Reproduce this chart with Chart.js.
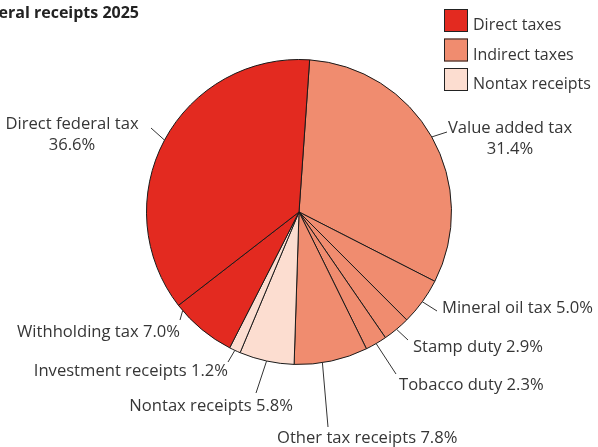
<!DOCTYPE html>
<html>
<head>
<meta charset="utf-8">
<script src="https://cdn.jsdelivr.net/npm/chart.js@4"></script>
<style>
  html, body { margin: 0; padding: 0; background: #fff; }
  canvas { display: block; }
</style>
</head>
<body>
<canvas id="chart" width="598" height="447"></canvas>
<script>
// data, clockwise from the top
const categories = ['Value added tax', 'Mineral oil tax', 'Stamp duty', 'Tobacco duty',
    'Other tax receipts', 'Nontax receipts', 'Investment receipts', 'Withholding tax', 'Direct federal tax'];
const shares = [31.4, 5.0, 2.9, 2.3, 7.8, 5.8, 1.2, 7.0, 36.6];
const groupOf = [1, 1, 1, 1, 1, 2, 2, 0, 0];
const groupNames = ['Direct taxes', 'Indirect taxes', 'Nontax receipts'];
const title = 'Federal receipts 2025';

const groupColors = ['#e32a20', '#f08c6f', '#fcddd0'];
const textColor = '#363636';
const labelFont = '16.6px "Open Sans", sans-serif';
const legendFont = '16px "Open Sans", sans-serif';

// where each slice label goes: point on arc (fraction of the slice), line end, text anchor
const labelLayout = [
    { frac: 0.5, end: [447, 132], tx: 510, ty: 133, align: 'center', split: true },
    { frac: 0.5, end: [437, 311], tx: 442, ty: 313, align: 'left' },
    { frac: 0.5, end: [408, 340], tx: 413, ty: 352, align: 'left' },
    { frac: 0.5, end: [396, 374], tx: 399, ty: 390, align: 'left' },
    { frac: 0.62, end: [328, 427], tx: 277, ty: 443, align: 'left' },
    { frac: 0.5, end: [256, 393], tx: 293, ty: 411, align: 'right' },
    { frac: 0.5, end: [228, 362], tx: 228, ty: 376, align: 'right' },
    { frac: 0.9, end: [180, 320], tx: 180, ty: 337, align: 'right' },
    { frac: 0.5, end: [151, 128], tx: 72, ty: 129, align: 'center', split: true }
];

const annotations = {
    id: 'annotations',
    afterDraw(chart) {
        const ctx = chart.ctx;
        const meta = chart.getDatasetMeta(0);
        ctx.save();

        // title (cut at the left edge like the source)
        ctx.font = 'bold 16px "Open Sans", sans-serif';
        ctx.fillStyle = '#222';
        ctx.textAlign = 'right';
        ctx.textBaseline = 'alphabetic';
        ctx.fillText(title, 139, 18);

        // slice labels with leader lines
        ctx.font = labelFont;
        meta.data.forEach((arc, i) => {
            const p = arc.getProps(['x', 'y', 'startAngle', 'endAngle', 'outerRadius'], true);
            const lay = labelLayout[i];
            const a = p.startAngle + lay.frac * (p.endAngle - p.startAngle);
            const sx = p.x + p.outerRadius * Math.cos(a);
            const sy = p.y + p.outerRadius * Math.sin(a);
            ctx.strokeStyle = '#333';
            ctx.lineWidth = 1;
            ctx.beginPath();
            ctx.moveTo(sx, sy);
            ctx.lineTo(lay.end[0], lay.end[1]);
            ctx.stroke();

            const pct = shares[i].toFixed(1) + '%';
            ctx.fillStyle = textColor;
            ctx.textAlign = lay.align;
            if (lay.split) {
                ctx.fillText(categories[i], lay.tx, lay.ty);
                ctx.fillText(pct, lay.tx, lay.ty + 21);
            } else {
                ctx.fillText(categories[i] + ' ' + pct, lay.tx, lay.ty);
            }
        });

        // legend
        ctx.font = legendFont;
        groupNames.forEach((name, g) => {
            const y = 9 + g * 29.5;
            ctx.fillStyle = groupColors[g];
            ctx.fillRect(444, y, 24, 23);
            ctx.strokeStyle = '#222';
            ctx.lineWidth = 1;
            ctx.strokeRect(444.5, y + 0.5, 23, 22);
            ctx.fillStyle = textColor;
            ctx.textAlign = 'left';
            ctx.fillText(name, 473, y + 21);
        });

        ctx.restore();
    }
};

new Chart(document.getElementById('chart'), {
    type: 'pie',
    data: {
        labels: categories,
        datasets: [{
            data: shares,
            backgroundColor: groupOf.map(g => groupColors[g]),
            borderColor: '#1a1a1a',
            borderWidth: 1
        }]
    },
    options: {
        responsive: false,
        animation: false,
        rotation: 4,
        layout: { padding: { top: 59, bottom: 82, left: 0, right: 0 } },
        plugins: {
            legend: { display: false },
            tooltip: { enabled: false }
        }
    },
    plugins: [annotations]
});
</script>
</body>
</html>
